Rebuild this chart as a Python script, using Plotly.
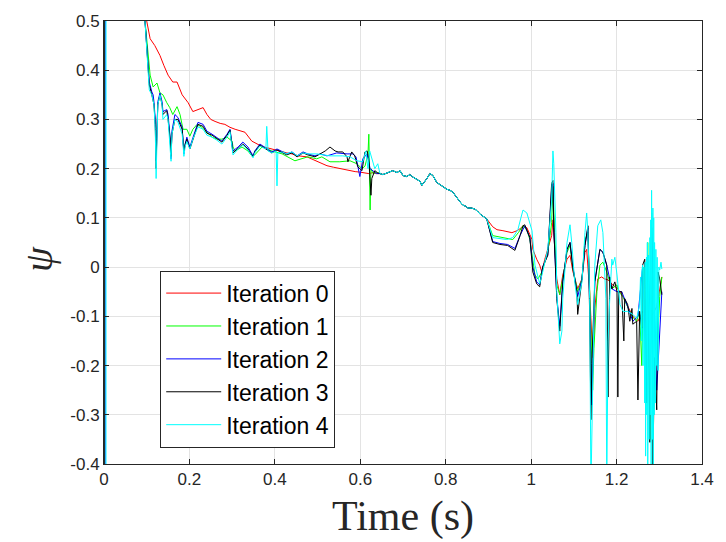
import plotly.graph_objects as go

# ---------------- data ----------------
series_names = ["Iteration 0", "Iteration 1", "Iteration 2", "Iteration 3", "Iteration 4"]

# common stretch shared by all iterations (0.646 s .. 0.896 s)
mid_t = [0.646, 0.653, 0.665, 0.676, 0.686, 0.693, 0.700, 0.709, 0.716, 0.723, 0.733, 0.740, 0.744, 0.750,
         0.756, 0.763, 0.770, 0.779, 0.790, 0.803, 0.810, 0.817, 0.822, 0.828, 0.834, 0.840, 0.846, 0.852,
         0.860, 0.868, 0.874, 0.880, 0.888, 0.896]
mid_v = [0.190, 0.188, 0.192, 0.196, 0.192, 0.196, 0.186, 0.184, 0.188, 0.183, 0.178, 0.174, 0.166, 0.172,
         0.180, 0.190, 0.186, 0.172, 0.166, 0.158, 0.156, 0.152, 0.146, 0.138, 0.132, 0.126, 0.124, 0.120,
         0.120, 0.118, 0.114, 0.108, 0.102, 0.098]

# Iteration 0
red_t = [0.0, 0.0005, 0.100, 0.108, 0.119, 0.131, 0.140, 0.147, 0.150, 0.161, 0.171, 0.183, 0.190, 0.197, 0.208,
         0.220, 0.232, 0.241, 0.250, 0.260, 0.272, 0.283, 0.295, 0.307, 0.318, 0.330, 0.346, 0.356, 0.365, 0.372,
         0.384, 0.393, 0.405, 0.417, 0.428, 0.440, 0.456, 0.475, 0.498, 0.510, 0.522, 0.537, 0.552, 0.564, 0.576,
         0.588, 0.599, 0.610, 0.620, 0.630, 0.638]
red_v = [-3, 3, 0.50, 0.464, 0.45, 0.43, 0.41, 0.394, 0.39, 0.376, 0.376, 0.35, 0.342, 0.334, 0.316,
         0.32, 0.324, 0.31, 0.30, 0.296, 0.292, 0.29, 0.284, 0.28, 0.277, 0.274, 0.256, 0.252, 0.248, 0.244,
         0.242, 0.24, 0.236, 0.234, 0.232, 0.23, 0.226, 0.224, 0.215, 0.21, 0.206, 0.203, 0.20, 0.198, 0.196,
         0.194, 0.193, 0.191, 0.19, 0.192, 0.19]
red_tail_t = [0.910, 0.920, 0.934, 0.945, 0.955, 0.967, 0.974, 0.981, 0.990, 0.997, 1.002, 1.004, 1.009, 1.013,
              1.020, 1.025, 1.032, 1.039, 1.048, 1.051, 1.053, 1.060, 1.067, 1.074, 1.084, 1.091, 1.098, 1.109,
              1.119, 1.126, 1.130, 1.137, 1.142, 1.144, 1.147, 1.149, 1.156, 1.165, 1.172, 1.180, 1.191, 1.203,
              1.215, 1.226, 1.238, 1.250, 1.261, 1.273, 1.282, 1.294, 1.306]
red_tail_v = [0.082, 0.076, 0.074, 0.072, 0.070, 0.074, 0.078, 0.084, 0.080, 0.066, 0.056, 0.036, 0.024, 0.016,
              0.004, -0.010, 0.016, 0.036, 0.064, 0.096, 0.070, -0.024, -0.056, -0.016, 0.016, 0.024, -0.010, -0.044,
              -0.024, 0.030, 0.036, -0.050, -0.144, -0.184, -0.140, -0.084, -0.024, -0.020, -0.024, -0.026, -0.036,
              -0.044, -0.060, -0.080, -0.100, -0.110, -0.090, -0.120, -0.100, -0.080, -0.020]

# Iteration 1
green_t = [0.0, 0.0005, 0.096, 0.101, 0.103, 0.108, 0.115, 0.124, 0.131, 0.138, 0.147, 0.154, 0.161, 0.171, 0.178,
           0.185, 0.194, 0.201, 0.208, 0.218, 0.229, 0.241, 0.253, 0.264, 0.276, 0.288, 0.300, 0.302, 0.307, 0.323,
           0.337, 0.346, 0.353, 0.370, 0.393, 0.417, 0.447, 0.477, 0.498, 0.510, 0.529, 0.552, 0.576, 0.592, 0.604,
           0.611, 0.618, 0.620, 0.622, 0.623, 0.625, 0.630, 0.638]
green_v = [-3, 3, 0.50, 0.456, 0.424, 0.39, 0.366, 0.374, 0.354, 0.35, 0.334, 0.324, 0.31, 0.326, 0.31,
           0.28, 0.28, 0.266, 0.28, 0.29, 0.284, 0.274, 0.264, 0.26, 0.26, 0.264, 0.256, 0.244, 0.236, 0.244,
           0.236, 0.226, 0.228, 0.244, 0.236, 0.23, 0.216, 0.224, 0.22, 0.224, 0.214, 0.214, 0.216, 0.21, 0.20,
           0.205, 0.23, 0.27, 0.18, 0.116, 0.20, 0.19, 0.192]
green_tail_t = [0.910, 0.934, 0.957, 0.970, 0.981, 0.990, 0.997, 1.009, 1.016, 1.025, 1.039, 1.048, 1.051, 1.055,
                1.060, 1.067, 1.074, 1.084, 1.091, 1.098, 1.109, 1.119, 1.126, 1.133, 1.137, 1.142, 1.144, 1.147,
                1.154, 1.161, 1.168, 1.177, 1.189, 1.201, 1.205, 1.215, 1.226, 1.236, 1.247, 1.254, 1.259, 1.264,
                1.268, 1.273, 1.278, 1.282, 1.285, 1.289, 1.294, 1.301, 1.306]
green_tail_v = [0.064, 0.060, 0.056, 0.070, 0.084, 0.075, 0.056, -0.016, -0.024, -0.010, 0.030, 0.090, 0.164, 0.070,
                -0.036, -0.056, -0.024, 0.030, 0.044, -0.004, -0.050, -0.024, 0.056, 0.070, -0.064, -0.230, -0.250,
                -0.165, -0.050, 0.004, 0.010, -0.010, -0.044, -0.036, -0.050, -0.060, -0.080, -0.100, -0.110, -0.090,
                -0.200, 0.000, -0.300, 0.050, -0.350, 0.080, -0.300, -0.100, -0.200, -0.060, -0.020]

# Iteration 2
blue_t = [0.0025, 0.003, 0.096, 0.101, 0.103, 0.106, 0.112, 0.115, 0.117, 0.120, 0.122, 0.124, 0.126, 0.131, 0.136,
          0.138, 0.147, 0.150, 0.155, 0.157, 0.159, 0.166, 0.173, 0.183, 0.185, 0.187, 0.190, 0.194, 0.201, 0.208,
          0.220, 0.232, 0.241, 0.253, 0.264, 0.276, 0.288, 0.295, 0.302, 0.314, 0.325, 0.337, 0.349, 0.353, 0.365,
          0.372, 0.384, 0.393, 0.405, 0.417, 0.428, 0.440, 0.452, 0.466, 0.477, 0.494, 0.506, 0.522, 0.545, 0.569,
          0.583, 0.590, 0.599, 0.606, 0.616, 0.623, 0.630, 0.638]
blue_v = [-3, 3, 0.50, 0.444, 0.404, 0.376, 0.356, 0.35, 0.336, 0.30, 0.216, 0.29, 0.336, 0.354, 0.336,
          0.316, 0.32, 0.31, 0.26, 0.22, 0.276, 0.31, 0.304, 0.284, 0.26, 0.23, 0.25, 0.264, 0.244, 0.264,
          0.294, 0.29, 0.276, 0.27, 0.264, 0.256, 0.27, 0.28, 0.236, 0.244, 0.254, 0.244, 0.226, 0.236, 0.25,
          0.246, 0.24, 0.234, 0.24, 0.234, 0.23, 0.234, 0.226, 0.234, 0.23, 0.226, 0.23, 0.226, 0.232, 0.23,
          0.23, 0.224, 0.184, 0.22, 0.23, 0.20, 0.196, 0.19]
blue_tail_t = [0.910, 0.927, 0.945, 0.962, 0.974, 0.985, 0.997, 1.004, 1.013, 1.020, 1.027, 1.039, 1.048, 1.051,
               1.053, 1.060, 1.067, 1.074, 1.084, 1.091, 1.098, 1.109, 1.119, 1.126, 1.133, 1.137, 1.142, 1.149,
               1.161, 1.168, 1.177, 1.189, 1.201, 1.212, 1.226, 1.238, 1.250, 1.261, 1.271, 1.282, 1.294, 1.306]
blue_tail_v = [0.052, 0.048, 0.046, 0.038, 0.064, 0.084, 0.060, 0.000, -0.030, -0.036, 0.000, 0.026, 0.160, 0.170,
               0.080, -0.060, -0.120, -0.030, 0.036, 0.050, 0.000, -0.060, -0.024, 0.044, 0.080, -0.090, -0.280,
               -0.030, 0.036, 0.030, 0.004, -0.044, -0.050, -0.050, -0.080, -0.110, -0.100, 0.000, -0.250, 0.080,
               -0.250, -0.050]

# Iteration 3
black_t = [0.0, 0.0005, 0.096, 0.101, 0.103, 0.106, 0.112, 0.117, 0.120, 0.122, 0.124, 0.126, 0.131, 0.136, 0.138,
           0.147, 0.150, 0.155, 0.157, 0.159, 0.166, 0.173, 0.183, 0.185, 0.187, 0.190, 0.194, 0.201, 0.208, 0.220,
           0.232, 0.241, 0.253, 0.264, 0.276, 0.288, 0.295, 0.302, 0.314, 0.325, 0.337, 0.349, 0.353, 0.365, 0.372,
           0.384, 0.393, 0.405, 0.417, 0.428, 0.440, 0.452, 0.466, 0.477, 0.494, 0.506, 0.518, 0.529, 0.541, 0.548,
           0.559, 0.569, 0.571, 0.580, 0.587, 0.594, 0.604, 0.611, 0.616, 0.620, 0.625, 0.627, 0.634, 0.640]
black_v = [-3, 3, 0.50, 0.44, 0.40, 0.37, 0.35, 0.33, 0.29, 0.20, 0.28, 0.33, 0.35, 0.33, 0.31,
           0.318, 0.30, 0.26, 0.225, 0.27, 0.30, 0.30, 0.28, 0.255, 0.235, 0.25, 0.26, 0.24, 0.26, 0.29,
           0.286, 0.272, 0.268, 0.262, 0.254, 0.268, 0.278, 0.232, 0.242, 0.25, 0.24, 0.224, 0.234, 0.248, 0.244,
           0.238, 0.232, 0.238, 0.232, 0.228, 0.232, 0.224, 0.232, 0.228, 0.224, 0.23, 0.236, 0.244, 0.236, 0.234,
           0.234, 0.224, 0.214, 0.234, 0.226, 0.204, 0.196, 0.234, 0.236, 0.22, 0.146, 0.18, 0.196, 0.192]
black_tail_t = [0.910, 0.927, 0.945, 0.962, 0.974, 0.981, 0.985, 0.997, 1.004, 1.013, 1.020, 1.027, 1.039, 1.048,
                1.051, 1.053, 1.060, 1.067, 1.074, 1.084, 1.091, 1.098, 1.107, 1.109, 1.119, 1.126, 1.133, 1.137,
                1.140, 1.142, 1.149, 1.161, 1.168, 1.177, 1.180, 1.184, 1.189, 1.196, 1.201, 1.203, 1.205, 1.212,
                1.217, 1.219, 1.226, 1.231, 1.236, 1.238, 1.247, 1.250, 1.254, 1.259, 1.261, 1.266, 1.271, 1.273,
                1.278, 1.282, 1.285, 1.289, 1.294, 1.297, 1.301, 1.306]
black_tail_v = [0.050, 0.046, 0.044, 0.034, 0.064, 0.084, 0.086, 0.060, -0.010, -0.034, -0.040, 0.000, 0.024, 0.170,
                0.176, 0.080, -0.064, -0.130, -0.030, 0.036, 0.050, -0.004, -0.050, -0.096, -0.024, 0.044, 0.084,
                -0.096, -0.310, -0.196, -0.030, 0.036, 0.030, 0.004, -0.264, -0.020, -0.044, -0.030, -0.050, -0.264,
                -0.050, -0.050, -0.150, -0.064, -0.076, -0.110, -0.084, -0.116, -0.110, -0.270, -0.090, -0.124,
                0.004, 0.016, -0.276, 0.024, -0.356, 0.110, -0.400, -0.184, -0.290, -0.010, -0.024, -0.056]

# Iteration 4
cyan_t = [0.0045, 0.005, 0.096, 0.101, 0.103, 0.106, 0.112, 0.117, 0.120, 0.122, 0.124, 0.126, 0.131, 0.136, 0.138,
          0.147, 0.150, 0.155, 0.157, 0.159, 0.166, 0.173, 0.183, 0.185, 0.187, 0.190, 0.194, 0.201, 0.208, 0.220,
          0.232, 0.241, 0.253, 0.264, 0.276, 0.288, 0.295, 0.302, 0.314, 0.325, 0.337, 0.349, 0.353, 0.365, 0.375,
          0.379, 0.381, 0.384, 0.393, 0.403, 0.405, 0.407, 0.417, 0.428, 0.440, 0.452, 0.466, 0.477, 0.498, 0.529,
          0.559, 0.576, 0.592, 0.606, 0.613, 0.618, 0.622, 0.627, 0.634, 0.641]
cyan_v = [-3, 3, 0.50, 0.44, 0.40, 0.36, 0.35, 0.33, 0.28, 0.18, 0.26, 0.33, 0.35, 0.33, 0.30,
          0.31, 0.30, 0.25, 0.215, 0.27, 0.30, 0.295, 0.27, 0.25, 0.225, 0.245, 0.255, 0.24, 0.26, 0.285,
          0.28, 0.268, 0.264, 0.258, 0.25, 0.264, 0.275, 0.228, 0.24, 0.248, 0.238, 0.222, 0.232, 0.246, 0.242,
          0.24, 0.286, 0.236, 0.232, 0.236, 0.165, 0.232, 0.234, 0.23, 0.234, 0.226, 0.232, 0.23, 0.23, 0.226,
          0.226, 0.224, 0.216, 0.214, 0.236, 0.20, 0.236, 0.22, 0.20, 0.21]
cyan_tail_t = [0.910, 0.943, 0.957, 0.969, 0.976, 0.981, 0.990, 0.997, 1.002, 1.009, 1.020, 1.027, 1.039, 1.048,
               1.051, 1.053, 1.058, 1.060, 1.067, 1.072, 1.074, 1.084, 1.091, 1.095, 1.102, 1.109, 1.119, 1.126,
               1.130, 1.133, 1.137, 1.140, 1.144, 1.149, 1.156, 1.163, 1.168, 1.175, 1.177, 1.180, 1.184, 1.189,
               1.191, 1.196, 1.201, 1.208, 1.215, 1.226, 1.238, 1.247, 1.254, 1.256, 1.258, 1.259, 1.261, 1.262,
               1.264, 1.266, 1.267, 1.268, 1.270, 1.271, 1.272, 1.273, 1.275, 1.276, 1.278, 1.279, 1.280, 1.281,
               1.282, 1.284, 1.285, 1.286, 1.287, 1.288, 1.289, 1.291, 1.292, 1.294, 1.295, 1.297, 1.299, 1.301,
               1.304, 1.306]
cyan_tail_v = [0.060, 0.056, 0.060, 0.076, 0.100, 0.116, 0.110, 0.090, 0.074, 0.004, -0.034, -0.010, 0.036, 0.136,
               0.236, 0.210, 0.070, -0.050, -0.156, -0.130, -0.064, 0.050, 0.086, 0.050, -0.030, -0.076, -0.030,
               0.070, 0.110, 0.070, -0.064, -0.450, -0.200, 0.004, 0.084, 0.096, 0.070, -0.064, -0.450, -0.150,
               -0.064, 0.016, 0.004, 0.020, -0.016, -0.076, -0.090, -0.090, -0.096, -0.104, -0.076, -0.020, -0.150,
               -0.010, 0.004, -0.200, 0.000, -0.276, 0.010, -0.384, 0.020, -0.300, 0.050, -0.420, 0.024, -0.350,
               0.060, -0.300, 0.096, -0.420, 0.156, -0.350, 0.120, -0.450, 0.100, -0.300, 0.050, -0.276, 0.036,
               -0.200, 0.020, -0.210, 0.000, -0.006, 0.010, -0.004]

x_tick_vals = [0, 0.2, 0.4, 0.6, 0.8, 1.0, 1.2, 1.4]
x_tick_text = ["0", "0.2", "0.4", "0.6", "0.8", "1", "1.2", "1.4"]
y_tick_vals = [-0.4, -0.3, -0.2, -0.1, 0, 0.1, 0.2, 0.3, 0.4, 0.5]
y_tick_text = ["-0.4", "-0.3", "-0.2", "-0.1", "0", "0.1", "0.2", "0.3", "0.4", "0.5"]

# ---------------- figure ----------------
pairs = [
    (red_t, red_v, red_tail_t, red_tail_v),
    (green_t, green_v, green_tail_t, green_tail_v),
    (blue_t, blue_v, blue_tail_t, blue_tail_v),
    (black_t, black_v, black_tail_t, black_tail_v),
    (cyan_t, cyan_v, cyan_tail_t, cyan_tail_v),
]
for a, b, c, d in pairs:
    assert len(a) == len(b) and len(c) == len(d), (len(a), len(b), len(c), len(d))
assert len(mid_t) == len(mid_v)

colors = ["#ff0000", "#00ff00", "#0000ff", "#000000", "#00ffff"]

fig = go.Figure()
for name, col, (ht, hv, tt, tv) in zip(series_names, colors, pairs):
    fig.add_trace(go.Scatter(
        x=ht + mid_t + tt, y=hv + mid_v + tv, mode="lines", name=name,
        line=dict(color=col, width=1),
    ))

tick_font = dict(family="Arial, Liberation Sans, sans-serif", size=17, color="#262626")
axis_common = dict(
    showline=True, linecolor="#262626", linewidth=1, mirror="ticks",
    ticks="inside", ticklen=5, tickwidth=1, tickcolor="#262626",
    showgrid=True, gridcolor="#e3e3e3", gridwidth=1, zeroline=False,
    tickfont=tick_font,
)

fig.update_layout(
    width=726, height=542,
    margin=dict(l=104, r=24, t=15, b=78),
    plot_bgcolor="white", paper_bgcolor="white",
    showlegend=True,
    xaxis=dict(range=[0, 1.4], tickvals=x_tick_vals, ticktext=x_tick_text, **axis_common),
    yaxis=dict(range=[-0.4, 0.5], tickvals=y_tick_vals, ticktext=y_tick_text, **axis_common),
    legend=dict(
        x=0.094, y=0.4365, xanchor="left", yanchor="top",
        bgcolor="white", bordercolor="#262626", borderwidth=1,
        font=dict(family="Arial, Liberation Sans, sans-serif", size=23, color="#000000"),
        itemwidth=55,
    ),
    annotations=[
        dict(text="Time (s)", xref="paper", yref="paper", x=0.5, y=-0.1195,
             xanchor="center", yanchor="middle", showarrow=False,
             font=dict(family="Liberation Serif, Times New Roman, serif", size=42, color="#262626")),
        dict(text="<i>ψ</i>", xref="paper", yref="paper", x=-0.1087, y=0.463,
             xanchor="center", yanchor="middle", showarrow=False, textangle=-90,
             font=dict(family="Liberation Serif, Times New Roman, serif", size=40, color="#262626")),
    ],
)

fig.write_html("out.html")
